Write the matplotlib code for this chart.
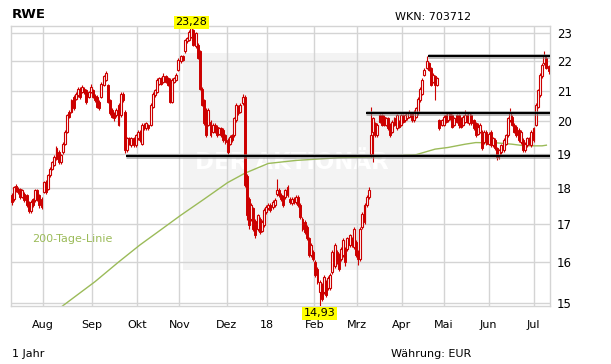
import matplotlib
matplotlib.use("Agg")
import matplotlib.pyplot as plt
import numpy as np
from matplotlib.patches import Rectangle
from matplotlib.ticker import NullLocator, NullFormatter

# ---------------- data ----------------
title = "RWE"
wkn_text = "WKN: 703712"
period_text = "1 Jahr"
currency_text = "Währung: EUR"
ma_label = "200-Tage-Linie"
watermark = "DER AKTIONÄR"

month_labels = ["Aug", "Sep", "Okt", "Nov", "Dez", "18", "Feb", "Mrz", "Apr", "Mai", "Jun", "Jul"]
month_pos = [14.5, 37.5, 58.5, 78.5, 100.5, 119.5, 141.5, 161.5, 182.5, 202, 223, 244]
y_ticks = [15, 16, 17, 18, 19, 20, 21, 22, 23]

opens = [
    17.81, 17.69, 18.06, 17.97, 17.97, 17.74, 17.83, 17.79, 17.60, 17.34, 17.69, 17.65, 17.93, 17.79, 17.69,
    17.88, 18.17, 17.97, 18.36, 18.56, 18.66, 18.85, 19.05, 18.75, 19.05, 19.31, 19.68, 20.31, 20.31, 20.80, 20.74, 20.85, 21.07, 20.96, 21.07, 21.01, 20.80, 20.96,
    21.01, 20.83, 20.80, 20.63, 20.80, 21.19, 21.36, 21.19, 20.69, 20.37, 20.26, 20.20, 19.89, 20.20, 20.90, 20.31, 19.10, 19.47, 19.26, 19.47, 19.26,
    19.47, 19.68, 19.31, 19.89, 19.78, 19.89, 19.89, 20.47, 20.85, 20.96, 21.24, 21.42, 21.30, 21.48, 21.42, 21.36, 20.63, 21.30, 21.36, 21.71,
    22.00, 22.18, 22.35, 22.71, 22.76, 22.88, 23.12, 22.53, 22.59, 22.35, 21.07, 20.69, 20.37, 19.89, 19.99, 19.68, 19.89, 19.83, 19.62, 19.78, 19.73, 19.57,
    19.42, 19.31, 19.57, 19.57, 20.04, 20.47, 20.31, 20.58, 20.80, 18.34, 17.69, 17.14, 17.42, 17.09, 16.87, 17.14, 16.82, 16.96, 17.32,
    17.42, 17.51, 17.46, 17.51, 17.83, 17.93, 17.79, 17.74, 17.74, 17.79, 17.69, 17.56, 17.69, 17.60, 17.74, 17.51, 17.14, 17.05, 16.91, 16.61, 16.17, 16.25,
    15.99, 15.83, 15.27, 15.43, 15.27, 15.51, 15.35, 15.35, 15.75, 15.91, 16.25, 16.17, 16.08, 16.17, 16.34, 16.34, 16.43, 16.61, 16.39, 16.52,
    16.25, 16.08, 16.91, 17.05, 17.51, 17.74, 19.00, 19.68, 19.94, 19.57, 19.99, 20.20, 20.15, 19.89, 20.10, 19.89, 19.68, 19.89, 19.78, 19.99, 19.89,
    20.20, 20.04, 20.10, 20.15, 20.26, 20.04, 20.15, 20.26, 20.69, 20.90, 21.53, 21.77, 21.94, 21.77, 21.30, 21.48, 21.19, 20.04, 19.89,
    19.89, 20.20, 20.04, 20.26, 20.20, 19.89, 19.99, 20.20, 20.10, 19.89, 19.99, 20.20, 19.94, 20.20, 20.04, 19.94, 19.62, 19.68, 19.68, 19.36, 19.68,
    19.31, 19.68, 19.26, 19.42, 19.16, 18.95, 19.05, 19.10, 19.31, 19.57, 20.04, 20.15, 19.89, 19.83, 19.73, 19.36, 19.42, 19.10, 19.26, 19.47, 19.26,
    19.42, 19.89, 20.47, 20.85, 21.48, 21.94, 22.12, 21.83,
]
closes = [
    17.60, 18.02, 17.93, 17.88, 17.74, 17.93, 17.65, 17.51, 17.34, 17.60, 17.51, 17.93, 17.69, 17.51, 17.46,
    18.17, 17.88, 18.36, 18.56, 18.75, 18.90, 19.16, 18.75, 18.95, 19.31, 19.68, 20.20, 20.15, 20.69, 20.42, 20.90, 21.07, 20.80, 21.13, 20.96, 20.63, 20.96, 21.13,
    20.80, 20.69, 20.47, 20.42, 21.24, 21.48, 21.59, 20.63, 20.26, 20.15, 20.10, 20.37, 20.53, 20.90, 20.69, 19.10, 19.47, 19.31, 19.47, 19.26, 19.57,
    19.68, 19.42, 19.89, 19.78, 19.94, 19.78, 20.53, 20.90, 21.01, 21.36, 21.42, 21.24, 21.48, 21.30, 21.19, 20.63, 21.36, 21.42, 21.53, 22.06,
    22.18, 22.06, 22.76, 22.82, 23.06, 23.18, 22.59, 23.00, 22.12, 21.07, 20.53, 19.94, 19.57, 20.37, 19.57, 19.89, 19.68, 19.57, 19.78, 19.57, 19.42, 19.36,
    19.05, 19.52, 19.42, 20.10, 20.53, 20.26, 20.53, 20.80, 18.07, 17.23, 16.96, 17.51, 16.87, 16.69, 17.23, 16.78, 17.05, 17.37, 17.46,
    17.51, 17.37, 17.60, 17.65, 17.93, 17.79, 17.69, 17.51, 17.93, 18.02, 17.60, 17.69, 17.60, 17.74, 17.51, 17.19, 16.87, 16.78, 16.61, 16.17, 16.43, 16.08,
    15.67, 15.51, 15.51, 15.10, 15.63, 15.19, 15.59, 15.67, 16.25, 16.43, 15.99, 15.83, 16.34, 16.56, 15.99, 16.61, 16.69, 16.43, 16.87, 16.17,
    16.08, 16.87, 17.28, 17.51, 17.74, 17.93, 19.57, 20.10, 19.57, 19.89, 20.20, 19.89, 19.89, 20.10, 19.78, 19.57, 19.99, 20.10, 20.20, 19.83, 20.20,
    19.99, 20.20, 20.26, 20.31, 20.04, 20.31, 20.42, 20.74, 21.07, 21.36, 21.71, 22.00, 21.71, 21.19, 21.53, 21.19, 21.42, 19.78, 20.04,
    20.15, 19.99, 20.26, 20.10, 19.83, 20.10, 20.20, 19.89, 19.83, 20.15, 20.20, 19.99, 20.26, 19.94, 19.78, 19.57, 19.83, 19.89, 19.16, 19.68, 19.31,
    19.62, 19.26, 19.47, 19.16, 18.90, 19.10, 19.26, 19.42, 19.57, 20.10, 20.26, 19.89, 19.68, 19.57, 19.42, 19.68, 19.10, 19.31, 19.47, 19.31, 19.68,
    19.78, 20.53, 21.01, 21.53, 21.88, 22.24, 21.77, 21.65,
]
highs = [
    17.86, 18.06, 18.10, 18.02, 18.00, 17.98, 17.88, 17.82, 17.64, 17.65, 17.72, 17.98, 17.97, 17.83, 17.73,
    18.21, 18.22, 18.40, 18.60, 18.79, 18.95, 19.22, 19.10, 19.00, 19.36, 19.72, 20.24, 20.36, 20.74, 20.85, 20.95, 21.12, 21.11, 21.20, 21.12, 21.05, 21.00, 21.22,
    21.05, 20.88, 20.84, 20.68, 21.28, 21.53, 21.66, 21.24, 20.73, 20.42, 20.30, 20.42, 20.58, 20.94, 20.95, 20.36, 19.52, 19.52, 19.52, 19.51, 19.62,
    19.73, 19.72, 19.94, 19.94, 19.99, 19.93, 20.58, 20.95, 21.06, 21.41, 21.47, 21.47, 21.60, 21.53, 21.47, 21.41, 21.41, 21.47, 21.58, 22.11,
    22.23, 22.23, 22.81, 22.87, 23.11, 23.28, 23.17, 23.05, 22.64, 22.40, 21.12, 20.74, 20.42, 20.42, 20.04, 19.94, 19.94, 19.88, 19.83, 19.83, 19.78, 19.62,
    19.47, 19.57, 19.62, 20.15, 20.58, 20.52, 20.58, 20.88, 20.85, 18.39, 17.74, 17.56, 17.47, 17.14, 17.28, 17.19, 17.10, 17.42, 17.51,
    17.56, 17.56, 17.65, 17.70, 18.25, 18.00, 17.84, 17.79, 17.98, 18.07, 17.74, 17.74, 17.74, 17.79, 17.79, 17.56, 17.19, 17.10, 16.96, 16.66, 16.48, 16.30,
    16.04, 15.88, 15.56, 15.48, 15.68, 15.56, 15.64, 15.72, 16.30, 16.48, 16.30, 16.22, 16.39, 16.61, 16.39, 16.66, 16.74, 16.66, 16.92, 16.57,
    16.30, 16.92, 17.33, 17.56, 17.79, 18.02, 20.47, 20.15, 19.99, 19.94, 20.25, 20.25, 20.20, 20.15, 20.15, 19.94, 20.04, 20.15, 20.25, 20.04, 20.25,
    20.25, 20.25, 20.31, 20.36, 20.31, 20.36, 20.47, 20.79, 21.12, 21.41, 21.76, 22.17, 21.99, 21.82, 21.58, 21.53, 21.47, 20.09, 20.09,
    20.20, 20.25, 20.31, 20.31, 20.25, 20.15, 20.25, 20.25, 20.15, 20.20, 20.36, 20.25, 20.31, 20.25, 20.09, 19.99, 19.95, 19.94, 19.73, 19.73, 19.73,
    19.67, 19.73, 19.52, 19.47, 19.21, 19.15, 19.31, 19.47, 19.62, 20.15, 20.42, 20.20, 19.94, 19.88, 19.78, 19.73, 19.47, 19.36, 19.52, 19.52, 19.73,
    19.83, 20.58, 21.06, 21.58, 21.93, 22.35, 22.17, 21.88,
]
lows = [
    17.52, 17.64, 17.88, 17.83, 17.68, 17.70, 17.60, 17.45, 17.30, 17.30, 17.46, 17.60, 17.64, 17.44, 17.40,
    17.84, 17.82, 17.93, 18.32, 18.52, 18.62, 18.80, 18.70, 18.70, 19.00, 19.27, 19.63, 20.10, 20.26, 20.36, 20.70, 20.80, 20.74, 20.92, 20.90, 20.55, 20.75, 20.92,
    20.75, 20.64, 20.42, 20.36, 20.76, 21.15, 21.32, 20.58, 20.20, 20.10, 20.02, 20.15, 19.84, 20.15, 20.64, 19.02, 19.05, 19.26, 19.21, 19.20, 19.21,
    19.42, 19.37, 19.26, 19.73, 19.73, 19.73, 19.84, 20.42, 20.80, 20.91, 21.19, 21.19, 21.25, 21.25, 21.14, 20.58, 20.58, 21.25, 21.31, 21.66,
    21.95, 22.01, 22.30, 22.66, 22.71, 22.83, 22.54, 22.48, 22.07, 21.02, 20.48, 19.89, 19.52, 19.84, 19.52, 19.63, 19.63, 19.52, 19.57, 19.52, 19.37, 19.31,
    19.00, 19.26, 19.37, 19.52, 19.99, 20.21, 20.26, 20.53, 18.02, 17.10, 16.85, 17.09, 16.82, 16.62, 16.82, 16.73, 16.77, 16.91, 17.27,
    17.37, 17.32, 17.41, 17.46, 17.78, 17.74, 17.64, 17.46, 17.69, 17.74, 17.55, 17.51, 17.55, 17.55, 17.46, 17.14, 16.82, 16.73, 16.56, 16.12, 16.12, 16.03,
    15.62, 15.46, 14.93, 15.05, 15.22, 15.14, 15.30, 15.30, 15.70, 15.86, 15.94, 15.78, 16.03, 16.12, 15.90, 16.29, 16.38, 16.38, 16.34, 16.12,
    15.92, 16.03, 16.86, 17.00, 17.46, 17.69, 18.90, 18.75, 19.52, 19.52, 19.94, 19.84, 19.84, 19.84, 19.73, 19.52, 19.63, 19.84, 19.73, 19.78, 19.84,
    19.94, 19.99, 20.05, 20.10, 19.99, 19.99, 20.10, 20.21, 20.64, 20.85, 21.48, 21.72, 21.66, 21.14, 21.25, 20.69, 21.14, 19.73, 19.84,
    19.84, 19.94, 19.99, 20.05, 19.78, 19.84, 19.94, 19.80, 19.78, 19.84, 19.94, 19.94, 19.89, 19.89, 19.73, 19.52, 19.57, 19.63, 19.11, 19.31, 19.26,
    19.26, 19.21, 19.21, 19.11, 18.80, 18.85, 19.00, 19.05, 19.26, 19.52, 19.99, 19.84, 19.63, 19.52, 19.37, 19.31, 19.05, 19.05, 19.21, 19.26, 19.21,
    19.37, 19.84, 20.42, 20.80, 21.43, 21.89, 21.72, 21.55,
]

# 200-day line, points (trading-day index, value)
ma_days = [20, 24, 30, 39, 50, 60, 70, 79, 90, 101, 109, 120, 133, 153, 170, 189, 198, 204, 212, 217, 227, 234, 240, 248, 250]
ma_vals = [14.77, 14.93, 15.16, 15.51, 16.00, 16.44, 16.85, 17.23, 17.68, 18.15, 18.42, 18.71, 18.80, 18.88, 18.91,
           18.97, 19.14, 19.19, 19.29, 19.34, 19.33, 19.29, 19.24, 19.24, 19.26]

# horizontal support / resistance lines
line_levels = [18.92, 20.26, 22.19]
line_starts = [53.5, 165.5, 194.5]

peak_label = "23,28"
low_label = "14,93"

# ---------------- style ----------------
RED = "#cc0000"
GREEN = "#9bbb59"
GRID = "#d4d4d4"
W, H = 611, 364

fig = plt.figure(figsize=(W / 100, H / 100), dpi=100)
ax_left, ax_right, ax_top, ax_bottom = 10.5, 550.0, 25.7, 305.7
ax = fig.add_axes([ax_left / W, 1 - ax_bottom / H, (ax_right - ax_left) / W, (ax_bottom - ax_top) / H])

n = min(len(opens), len(closes), len(highs), len(lows))
x = np.arange(n)
o = np.array(opens[:n]); c = np.array(closes[:n])
h = np.array(highs[:n]); l = np.array(lows[:n])

ax.set_yscale("log")
ax.set_ylim(14.93, 23.28)
ax.set_xlim(-0.5, 251.7)

# watermark box
ax.add_patch(Rectangle((0.3197, 0.1275), 0.404, 0.7735, transform=ax.transAxes,
                       facecolor="#f3f3f3", edgecolor="none", zorder=0))
ax.text(0.522, 0.51, watermark, transform=ax.transAxes, ha="center", va="center",
        fontsize=16.5, fontweight="bold", color="white", zorder=0.2)

# grid
ax.set_axisbelow(True)
ax.grid(True, which="major", color=GRID, lw=1.0)
for s in ax.spines.values():
    s.set_color(GRID)
    s.set_linewidth(1.0)

# 200-day line
ax.plot(ma_days, ma_vals, color=GREEN, lw=1.0, zorder=2)

# candles
up = c >= o
bottom = np.minimum(o, c)
height = np.maximum(np.abs(c - o), 0.015)
ax.vlines(x, l, h, color=RED, lw=0.8, zorder=3)
ax.bar(x[~up], height[~up], bottom=bottom[~up], width=0.9, color=RED,
       edgecolor=RED, linewidth=0.7, zorder=4)
ax.bar(x[up], height[up], bottom=bottom[up], width=0.9, facecolor="white",
       edgecolor=RED, linewidth=0.8, zorder=4)

# horizontal lines
xr = 251.7
ax.hlines(line_levels, line_starts, xr, color="#888888", lw=3.6, alpha=0.55, zorder=5)
ax.hlines(line_levels, line_starts, xr, color="black", lw=1.5, zorder=6)

# ticks
ax.yaxis.tick_right()
ax.set_yticks(y_ticks)
ax.set_yticklabels([str(v) for v in y_ticks])
ax.yaxis.set_minor_locator(NullLocator())
ax.yaxis.set_minor_formatter(NullFormatter())
ax.set_xticks(month_pos)
ax.set_xticklabels(month_labels)
ax.tick_params(axis="y", length=0, pad=5, labelsize=8.5, colors="black")
ax.tick_params(axis="x", length=0, pad=10.5, labelsize=8, colors="black")

# peak / low labels
ipk = int(np.argmax(h)); ilo = int(np.argmin(l))
ax.annotate(peak_label, xy=(ipk, h[ipk]), xytext=(0, -1.2), textcoords="offset points",
            ha="center", va="bottom", fontsize=8, zorder=10, annotation_clip=False,
            bbox=dict(boxstyle="square,pad=0.12", fc="#ffff00", ec="none"))
ax.annotate(low_label, xy=(ilo, l[ilo]), xytext=(0, -2.0), textcoords="offset points",
            ha="center", va="top", fontsize=8, zorder=10, annotation_clip=False,
            bbox=dict(boxstyle="square,pad=0.12", fc="#ffff00", ec="none"))

# texts
def fp(px, py):
    return px / W, 1 - py / H

ax.text(0.0405, 0.24, ma_label, transform=ax.transAxes, color=GREEN, fontsize=8,
        ha="left", va="center")
fig.text(*fp(12, 14.7), title, fontsize=9.5, fontweight="bold", ha="left", va="center")
fig.text(*fp(471, 16.5), wkn_text, fontsize=8, ha="right", va="center")
fig.text(*fp(12, 354), period_text, fontsize=8, ha="left", va="center")
fig.text(*fp(471, 354), currency_text, fontsize=8, ha="right", va="center")

fig.savefig("out.png", dpi=100)
